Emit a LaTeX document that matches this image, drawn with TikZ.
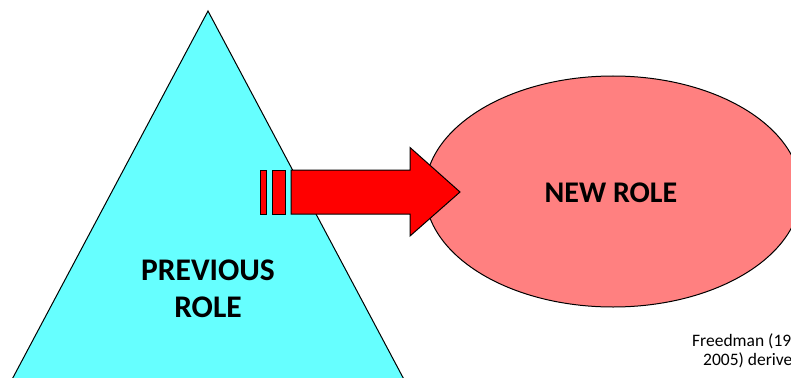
\documentclass[tikz,border=0pt]{standalone}
\usepackage{fontspec}
\setmainfont{Carlito}
\usetikzlibrary{shapes.geometric}
\definecolor{tricyan}{RGB}{102,255,255}
\definecolor{ellpink}{RGB}{255,128,128}
\definecolor{arrred}{RGB}{255,0,0}
\tikzset{
  outline/.style={draw=black, line width=1pt, line join=miter},
  bigtext/.style={font=\fontsize{30}{37}\selectfont\bfseries, align=center, inner sep=0pt},
  prevtext/.style={font=\fontsize{31.5}{37}\selectfont\bfseries, align=center, inner sep=0pt},
  smalltext/.style={font=\fontsize{17.5}{19}\selectfont, align=left, inner sep=0pt, anchor=base west}
}
\begin{document}
\begin{tikzpicture}[x=1pt, y=-1pt]
\useasboundingbox (0,0) rectangle (791,377);
\clip (0,0) rectangle (791,377);
% previous role triangle
\draw[outline, fill=tricyan] (208,11) -- (416,402) -- (0,402) -- cycle;
\node[prevtext] (prev) at (208,289) {PREVIOUS\\ROLE};
% new role ellipse
\node[ellipse, outline, fill=ellpink, minimum width=376pt, minimum height=231pt, inner sep=0pt] (new) at (613,191.5) {};
\node[bigtext] (newtxt) at (611,193) {NEW ROLE};
% arrow
\draw[outline, fill=arrred] (291,170) -- (410,170) -- (410,147.5) -- (460,192) -- (410,236) -- (410,214) -- (291,214) -- cycle;
\draw[outline, fill=arrred] (272.5,170) rectangle (285,214);
\draw[outline, fill=arrred] (260,170) rectangle (266.5,214);
% citation
\node[smalltext] (cite1) at (692,346) {Freedman (19};
\node[smalltext] (cite2) at (703,365) {2005) derive};
\end{tikzpicture}
\end{document}
